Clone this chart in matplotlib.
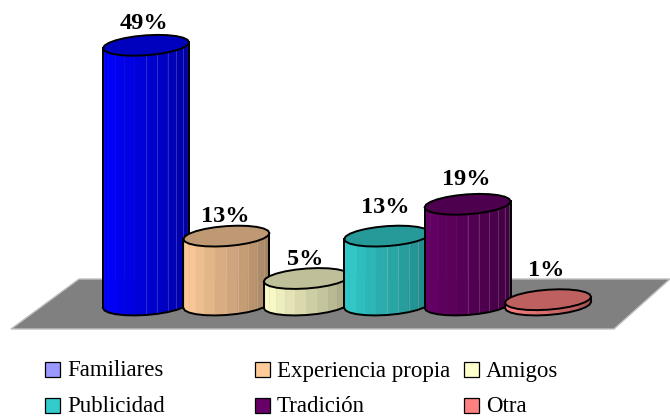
import matplotlib
matplotlib.use("Agg")
import matplotlib.pyplot as plt
from matplotlib.patches import Polygon, Rectangle
import numpy as np

categories = ["Familiares", "Experiencia propia", "Amigos", "Publicidad", "Tradición", "Otra"]
values = [49, 13, 5, 13, 19, 1]
side_colors = ["#0000FF", "#FFCC99", "#FFFFCC", "#33CCCC", "#660066", "#FF8080"]
legend_colors = ["#9999FF", "#FFCC99", "#FFFFCC", "#33CCCC", "#660066", "#FF8080"]
label_lift = [22, 20, 19, 29, 25, 29]

plt.rcParams['font.family'] = ['Liberation Serif', 'DejaVu Serif']

W, H = 670, 416
X0, DX = 146, 80.4   # pixel of first bar, pixels per bar
Y0, DY = 305, 5.3    # pixel of value 0, pixels per unit
RX, RY, TILT = 43 / DX, 10 / DY, 3 / DY

fig = plt.figure(figsize=(W / 100, H / 100), dpi=100)

back = fig.add_axes([0, 0, 1, 1])
back.set_xlim(0, W)
back.set_ylim(H, 0)
back.axis("off")
back.add_patch(Polygon([(11, 329), (79, 279), (670, 279), (614, 329)], closed=True,
                       facecolor="#808080", edgecolor="#c0c0c0", linewidth=1))

ax = fig.add_axes([0, 0, 1, 1])
ax.set_xlim(-X0 / DX, (W - X0) / DX)
ax.set_ylim((Y0 - H) / DY, Y0 / DY)
ax.axis("off")
ax.patch.set_alpha(0)


def shade(color, k):
    r, g, b = matplotlib.colors.to_rgb(color)
    return (r * k, g * k, b * k)


def draw_cylinder(i, val, color):
    t = np.linspace(np.pi, 2 * np.pi, 13)
    u = np.cos(t)
    low = TILT * u + RY * np.sin(t)
    z = 10 + i * 3
    for j in range(len(t) - 1):
        pos = j / (len(t) - 2)
        if pos < 0.12:
            k = 0.92 + pos * 0.6
        else:
            k = 1.0 - (pos - 0.12) * 0.45
        pts = [(i + RX * u[j], low[j]), (i + RX * u[j + 1], low[j + 1]),
               (i + RX * u[j + 1], val + low[j + 1]), (i + RX * u[j], val + low[j])]
        ax.add_patch(Polygon(pts, closed=True, facecolor=shade(color, k),
                             edgecolor=shade(color, k), linewidth=0.4, zorder=z))
        if j > 5 and val > 5:
            ax.plot([i + RX * u[j]] * 2, [low[j], val + low[j]],
                    color=np.array(shade(color, k)) * 0.6 + 0.4, lw=0.5, alpha=0.6, zorder=z)
    # outline of the side
    ax.plot(i + RX * u, low, color="black", lw=1.4, zorder=z + 1)
    ax.plot([i - RX, i - RX], [-TILT, val - TILT], color="black", lw=1.4, zorder=z + 1)
    ax.plot([i + RX, i + RX], [TILT, val + TILT], color="black", lw=1.4, zorder=z + 1)
    # top
    tt = np.linspace(0, 2 * np.pi, 25)
    ax.fill(i + RX * np.cos(tt), val + TILT * np.cos(tt) + RY * np.sin(tt),
            facecolor=shade(color, 0.75), edgecolor="black", linewidth=1.4, zorder=z + 2)


for i in range(len(categories)):
    draw_cylinder(i, values[i], side_colors[i])
    ax.text(i - 0.02, values[i] + label_lift[i] / DY, str(values[i]) + "%", ha="center", va="center",
            fontsize=17.5, fontweight="bold", color="black", zorder=40)

# legend, laid out by hand to keep the uneven columns
col_x = [44, 254, 463]
row_y = [369, 405]
for n, name in enumerate(categories):
    x = col_x[n % 3]
    y = row_y[n // 3]
    back.add_patch(Rectangle((x + 1, y - 7), 14.5, 14.5, facecolor=legend_colors[n],
                             edgecolor="black", linewidth=0.9))
    back.text(x + 23, y + 7.5, name, ha="left", va="baseline", fontsize=16.5, color="black")

fig.savefig("out.png", dpi=100)
